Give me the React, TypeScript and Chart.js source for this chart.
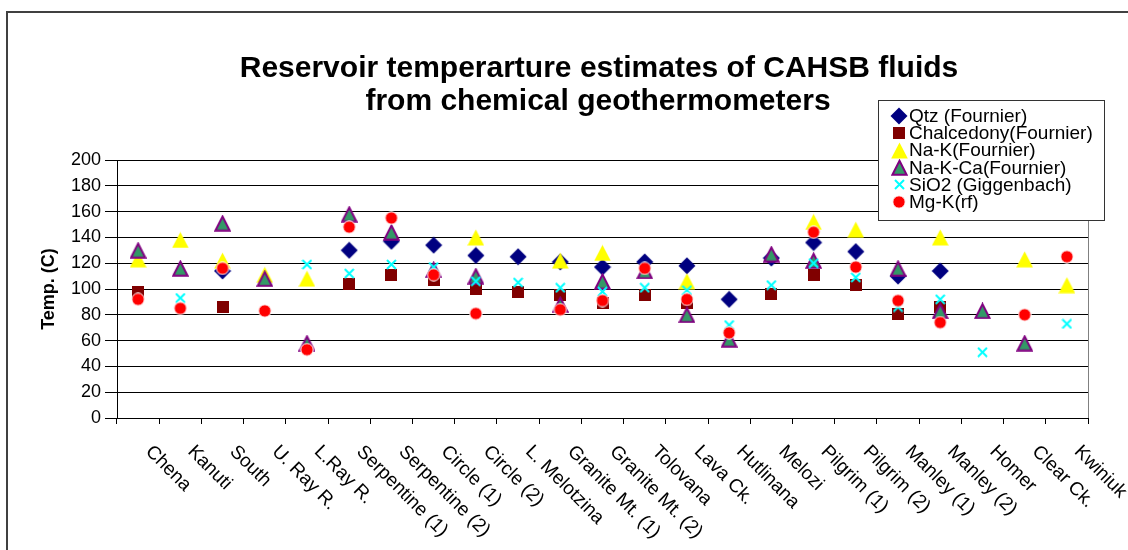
import React, { useEffect, useRef } from 'react';
import { Chart, registerables } from 'chart.js';

Chart.register(...registerables);

const categories = [
  'Chena', 'Kanuti', 'South', 'U. Ray R.', 'L.Ray R.', 'Serpentine (1)', 'Serpentine (2)',
  'Circle (1)', 'Circle (2)', 'L. Melotzina', 'Granite Mt. (1)', 'Granite Mt. (2)', 'Tolovana',
  'Lava Ck.', 'Hutlinana', 'Melozi', 'Pilgrim (1)', 'Pilgrim (2)', 'Manley (1)', 'Manley (2)',
  'Homer', 'Clear Ck.', 'Kwiniuk',
];

const qtzFournier = [null, null, 114, null, null, 130, 137, 134, 126, 125, 121, 117, 121, 118, 92, 124, 136, 129, 110, 114, null, null, null];
const chalcedonyFournier = [98, null, 86, null, null, 104, 111, 107, 100, 98, 95, 89, 95, 89, null, 96, 111, 103, 81, 86, null, null, null];
const naKFournier = [123, 138, 122, 111, 108, null, null, null, 140, null, 122, 128, null, 106, null, null, 152, 146, null, 140, null, 123, 103];
const naKCaFournier = [130, 116, 151, 108, 58, 158, 144, 115, 110, null, 88, 106, 114, 80, 61, 127, 122, null, 116, 83, 83, 58, null];
const sio2Giggenbach = [null, 93, null, null, 119, 112, 119, 117, 106, 105, 101, 98, 101, 99, 72, 103, 120, 109, 86, 92, 51, null, 73];
const mgKrf = [92, 85, 116, 83, 53, 148, 155, 111, 81, null, 84, 91, 116, 92, 66, null, 144, 117, 91, 74, null, 80, 125];

const seriesNames = [
  'Qtz (Fournier)', 'Chalcedony(Fournier)', 'Na-K(Fournier)',
  'Na-K-Ca(Fournier)', 'SiO2 (Giggenbach)', 'Mg-K(rf)',
];

const yTicks = [0, 20, 40, 60, 80, 100, 120, 140, 160, 180, 200];

const FONT = '"Liberation Sans", Arial, sans-serif';

function makeMarker(kind: string): HTMLCanvasElement {
  const c = document.createElement('canvas');
  const ctx = c.getContext('2d')!;
  if (kind === 'diamond') {
    c.width = 18; c.height = 18;
    ctx.fillStyle = '#000080';
    ctx.beginPath();
    ctx.moveTo(9, 0.5); ctx.lineTo(17.5, 9); ctx.lineTo(9, 17.5); ctx.lineTo(0.5, 9);
    ctx.closePath(); ctx.fill();
  } else if (kind === 'square') {
    c.width = 12; c.height = 12;
    ctx.fillStyle = '#800000';
    ctx.fillRect(0, 0, 12, 12);
  } else if (kind === 'yellowTri') {
    c.width = 17; c.height = 17;
    ctx.fillStyle = '#FFFF00';
    ctx.beginPath();
    ctx.moveTo(8.5, 0.5); ctx.lineTo(16.8, 16.5); ctx.lineTo(0.2, 16.5);
    ctx.closePath(); ctx.fill();
  } else if (kind === 'greenTri') {
    c.width = 17; c.height = 17;
    ctx.fillStyle = '#339966';
    ctx.strokeStyle = '#800080';
    ctx.lineWidth = 2;
    ctx.lineJoin = 'miter';
    ctx.beginPath();
    ctx.moveTo(8.5, 1.8); ctx.lineTo(15.6, 15.8); ctx.lineTo(1.4, 15.8);
    ctx.closePath(); ctx.fill(); ctx.stroke();
  } else if (kind === 'x') {
    c.width = 11; c.height = 11;
    ctx.strokeStyle = '#00FFFF';
    ctx.lineWidth = 2;
    ctx.beginPath();
    ctx.moveTo(1, 1); ctx.lineTo(10, 10);
    ctx.moveTo(10, 1); ctx.lineTo(1, 10);
    ctx.stroke();
  } else {
    c.width = 14; c.height = 14;
    ctx.fillStyle = '#FF0000';
    ctx.strokeStyle = '#FFFFFF';
    ctx.lineWidth = 1;
    ctx.beginPath();
    ctx.arc(7, 7, 6.2, 0, Math.PI * 2);
    ctx.fill(); ctx.stroke();
  }
  return c;
}

export default function App() {
  const ref = useRef<HTMLCanvasElement>(null);

  useEffect(() => {
    document.body.style.margin = '0';
    const markers = [
      makeMarker('diamond'), makeMarker('square'), makeMarker('yellowTri'),
      makeMarker('greenTri'), makeMarker('x'), makeMarker('circle'),
    ];
    const values = [qtzFournier, chalcedonyFournier, naKFournier, naKCaFournier, sio2Giggenbach, mgKrf];

    const decor = {
      id: 'decor',
      afterDraw(chart: any) {
        const ctx = chart.ctx as CanvasRenderingContext2D;
        const area = chart.chartArea;
        const xs = chart.scales.x;
        ctx.save();

        // outer frame
        ctx.strokeStyle = '#404040';
        ctx.lineWidth = 2;
        ctx.beginPath();
        ctx.moveTo(7, 560); ctx.lineTo(7, 12); ctx.lineTo(1140, 12);
        ctx.stroke();

        // plot area right border
        ctx.strokeStyle = '#808080';
        ctx.lineWidth = 1;
        ctx.beginPath();
        ctx.moveTo(Math.round(area.right) + 0.5, area.top);
        ctx.lineTo(Math.round(area.right) + 0.5, area.bottom);
        ctx.stroke();

        // title
        ctx.fillStyle = '#000';
        ctx.textAlign = 'center';
        ctx.textBaseline = 'alphabetic';
        ctx.font = 'bold 30px ' + FONT;
        ctx.fillText('Reservoir temperarture estimates of CAHSB fluids', 599, 77);
        ctx.fillText('from chemical geothermometers', 598, 110);

        // y title
        ctx.save();
        ctx.translate(49, 289);
        ctx.rotate(-Math.PI / 2);
        ctx.font = 'bold 18px ' + FONT;
        ctx.textAlign = 'center';
        ctx.textBaseline = 'middle';
        ctx.fillText('Temp. (C)', 0, 0);
        ctx.restore();

        // x labels, rotated clockwise 45 degrees
        ctx.font = '19px ' + FONT;
        ctx.textAlign = 'left';
        ctx.textBaseline = 'top';
        categories.forEach((lab, i) => {
          const px = xs.getPixelForValue(i);
          ctx.save();
          ctx.translate(px + 17, area.bottom + 24);
          ctx.rotate(Math.PI / 4);
          ctx.fillText(lab, 0, 0);
          ctx.restore();
        });

        // legend
        const lx = 878, ly = 100, lw = 226, lh = 120;
        ctx.fillStyle = '#FFFFFF';
        ctx.fillRect(lx, ly, lw, lh);
        ctx.strokeStyle = '#333333';
        ctx.lineWidth = 1;
        ctx.strokeRect(lx + 0.5, ly + 0.5, lw, lh);
        ctx.font = '19px ' + FONT;
        ctx.textAlign = 'left';
        ctx.textBaseline = 'middle';
        ctx.fillStyle = '#000';
        seriesNames.forEach((name, i) => {
          const cy = 116 + i * 17.1;
          const m = markers[i];
          ctx.drawImage(m, Math.round(899 - m.width / 2), Math.round(cy - m.height / 2));
          ctx.fillText(name, 909, cy + 1);
        });

        ctx.restore();
      },
    };

    const chart = new Chart(ref.current!, {
      type: 'line',
      data: {
        labels: categories,
        datasets: seriesNames.map((name, i) => ({
          label: name,
          data: values[i],
          showLine: false,
          pointStyle: markers[i],
          pointRadius: 6,
          pointHoverRadius: 6,
          order: 5 - i,
        })),
      },
      options: {
        responsive: false,
        animation: false,
        events: [],
        layout: { padding: { left: 0, right: 40, top: 160, bottom: 126 } },
        plugins: {
          legend: { display: false },
          title: { display: false },
          tooltip: { enabled: false },
        },
        scales: {
          x: {
            type: 'category',
            offset: true,
            ticks: { display: false },
            grid: {
              offset: true,
              drawOnChartArea: false,
              drawTicks: true,
              tickLength: 6,
              color: '#000',
            },
            border: { display: true, color: '#000', width: 1 },
            afterFit: (scale: any) => { scale.height = 6; },
          },
          y: {
            min: 0,
            max: 200,
            afterBuildTicks: (scale: any) => { scale.ticks = yTicks.map((v) => ({ value: v })); },
            ticks: {
              font: { size: 18, family: FONT },
              color: '#000',
              padding: 4,
            },
            grid: {
              color: '#000',
              drawTicks: true,
              tickLength: 12,
            },
            border: { display: true, color: '#000', width: 1 },
            afterFit: (scale: any) => { scale.width = 117; },
          },
        },
      },
      plugins: [decor],
    } as any);

    return () => chart.destroy();
  }, []);

  return (
    <div style={{ width: 1128, height: 550 }}>
      <canvas ref={ref} width={1128} height={550} style={{ display: 'block' }} />
    </div>
  );
}
